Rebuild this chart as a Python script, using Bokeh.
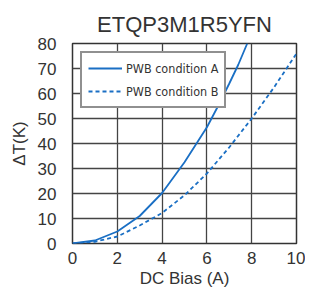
from bokeh.plotting import figure
from bokeh.models import Legend, LegendItem, Title
from bokeh.embed import file_html
from bokeh.resources import INLINE

title_text = "ETQP3M1R5YFN"
x_label = "DC Bias (A)"
y_label = "ΔT(K)"

a_x = [0, 1, 2, 3, 4, 5, 6, 6.5, 7, 7.4, 7.8]
a_y = [0, 1.2, 4.8, 11, 20.2, 32.5, 46.5, 55, 64, 71.5, 80]
b_x = [0, 1, 2, 3, 4, 5, 6, 7, 8, 9, 10]
b_y = [0, 0.7, 2.8, 7.2, 12.2, 19.3, 28, 38.5, 50, 62.5, 76]

x_ticks = [0, 2, 4, 6, 8, 10]
y_ticks = [0, 10, 20, 30, 40, 50, 60, 70, 80]

FONT = "Liberation Sans"
BLUE = "#1a6fc4"

p = figure(frame_width=224, frame_height=200, width=305, height=287,
           x_range=(0, 10), y_range=(0, 80),
           output_backend="svg", toolbar_location=None,
           min_border_left=72, min_border_right=9, min_border_top=43, min_border_bottom=44)

p.title = Title(text=title_text, align="center", text_font=FONT, text_font_size="22px",
                text_font_style="normal", text_color="#333333", offset=0)
p.title.standoff = 14

la = p.line(a_x, a_y, line_color=BLUE, line_width=1.8)
lb = p.line(b_x, b_y, line_color=BLUE, line_width=1.8, line_dash="4 3")

for ax in (p.xaxis[0], p.yaxis[0]):
    ax.axis_line_color = None
    ax.major_tick_line_color = None
    ax.minor_tick_line_color = None
    ax.major_label_text_font = FONT
    ax.major_label_text_font_size = "17px"
    ax.major_label_text_color = "#333333"
    ax.axis_label_text_font = FONT
    ax.axis_label_text_font_size = "17px"
    ax.axis_label_text_font_style = "normal"
    ax.axis_label_text_color = "#333333"

p.xaxis.ticker = x_ticks
p.yaxis.ticker = y_ticks
p.xaxis.axis_label = x_label
p.yaxis.axis_label = y_label
p.xaxis.major_label_standoff = 2
p.yaxis.major_label_standoff = 10
p.xaxis.axis_label_standoff = 2
p.yaxis.axis_label_standoff = 6

p.xgrid.grid_line_color = "#444444"
p.ygrid.grid_line_color = "#444444"
p.xgrid.grid_line_width = 1.3
p.ygrid.grid_line_width = 1.3
p.xgrid.grid_line_alpha = 1
p.ygrid.grid_line_alpha = 1

p.outline_line_color = "#333333"
p.outline_line_width = 1.5

legend = Legend(items=[LegendItem(label="PWB condition A", renderers=[la]),
                       LegendItem(label="PWB condition B", renderers=[lb])],
                location="top_left", margin=8, padding=6, spacing=5,
                glyph_width=34, glyph_height=18, label_height=18, label_standoff=4,
                label_text_font="DejaVu Sans Condensed", label_text_font_size="12.5px",
                label_text_color="#333333",
                border_line_color="#222222", border_line_width=2,
                background_fill_color="white", background_fill_alpha=1)
p.add_layout(legend)

open("out.html", "w").write(file_html(p, INLINE))
